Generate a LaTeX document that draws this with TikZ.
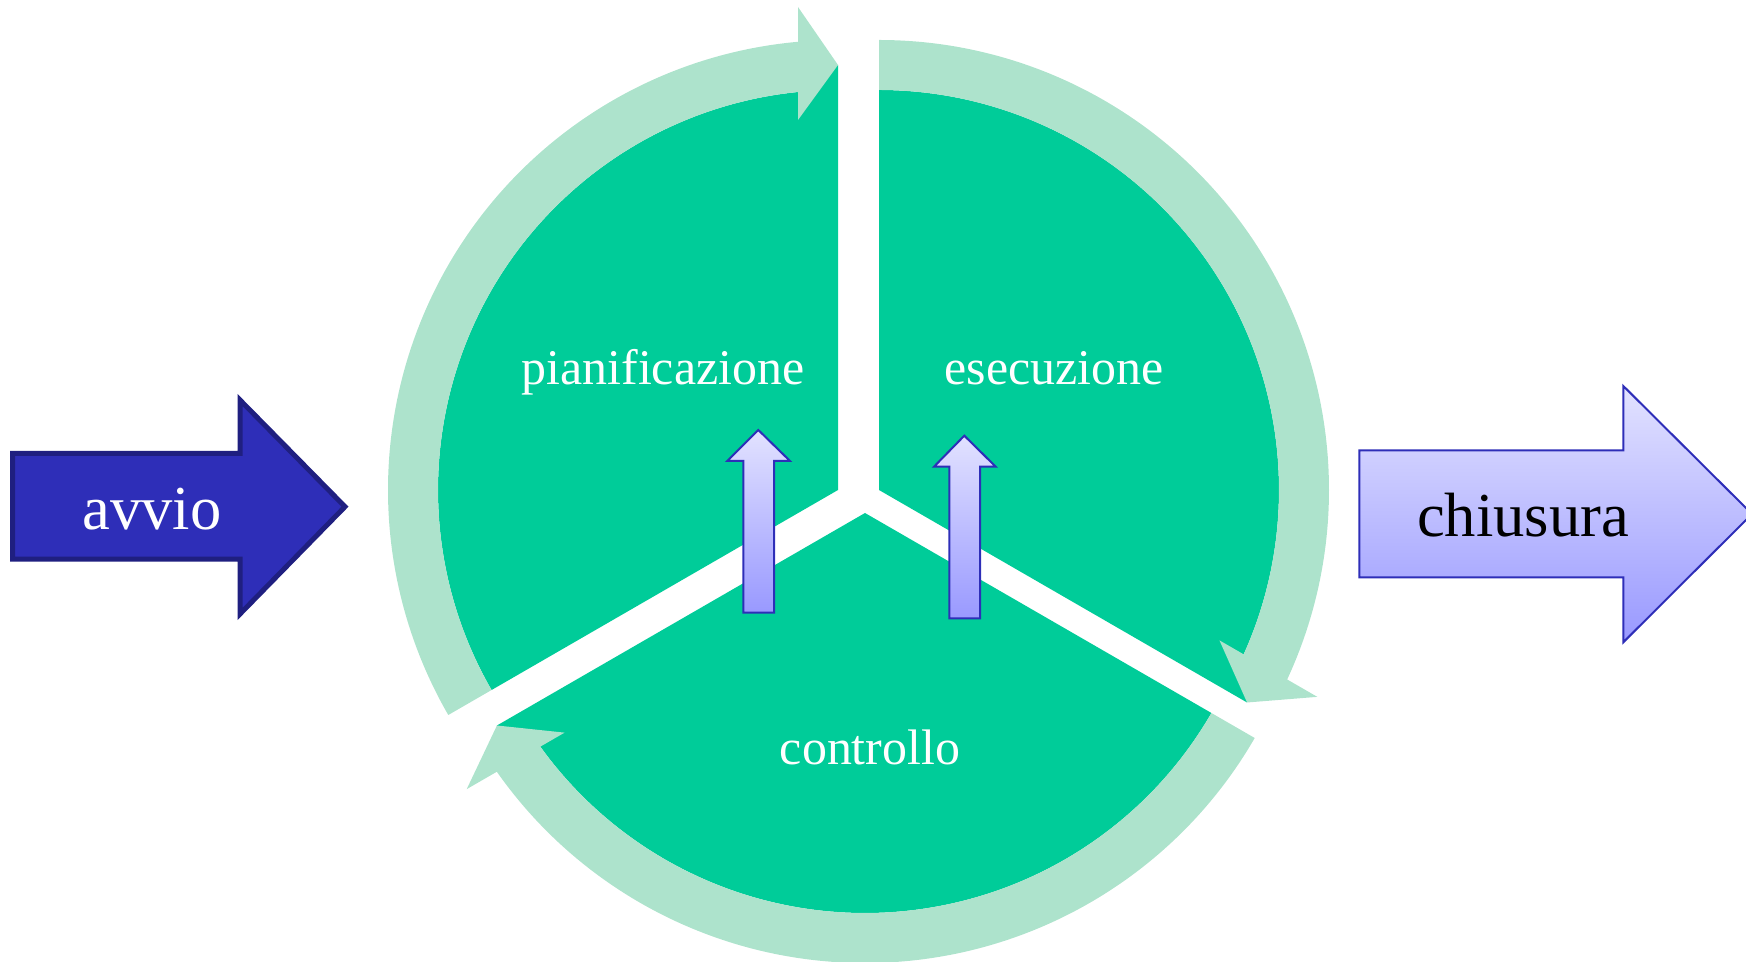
\documentclass[tikz,border=0pt]{standalone}
\usepackage{fontspec}
\setmainfont{Liberation Serif}
\usetikzlibrary{calc}
\definecolor{settore}{RGB}{0,204,153}
\definecolor{anello}{RGB}{173,227,204}
\definecolor{bluscuro}{RGB}{46,46,184}
\definecolor{bordoblu}{RGB}{31,31,128}
\definecolor{lilla}{RGB}{226,226,255}
\definecolor{lillascuro}{RGB}{153,153,255}
\definecolor{bordolilla}{RGB}{46,46,184}

% freccia circolare: centro, angolo di partenza, angolo della punta
\newcommand{\frecciaciclo}[3]{%
  \fill[anello] ($(#1)+(#2:4.5)$) arc[start angle=#2, end angle={#3+5.1}, radius=4.5]
    -- ($(#1)+(#3:4.83)+({#3+90}:0.4)$) -- ($(#1)+(#3:4.25)$)
    -- ($(#1)+(#3:3.7)+({#3+90}:0.4)$) -- ($(#1)+({#3+5.74}:4)$)
    arc[start angle={#3+5.74}, end angle=#2, radius=4] -- cycle;}

\begin{document}
\begin{tikzpicture}[
    etichetta/.style={text=white, font=\fontsize{14.2}{17}\selectfont, inner sep=0pt},
    freccina/.style={top color=lilla, bottom color=lillascuro, draw=bordolilla, line width=0.2mm}]
    \useasboundingbox (0,0) rectangle (17.46,9.61);
    % centri dei tre settori
    \coordinate (pc) at (8.38,4.71);
    \coordinate (ec) at (8.79,4.71);
    \coordinate (cc) at (8.65,4.48);
    \fill[settore] (pc) -- ($(pc)+(90:4.25)$) -- ($(pc)+(95.74:4)$) arc[start angle=95.74, end angle=210, radius=4] -- cycle;
    \fill[settore] (ec) -- ++(90:4) arc[start angle=90, end angle=-24.26, radius=4] -- ($(ec)+(-30:4.25)$) -- cycle;
    \fill[settore] (cc) -- ++(330:4) arc[start angle=330, end angle=215.74, radius=4] -- ($(cc)+(210:4.25)$) -- cycle;
    \frecciaciclo{pc}{210}{90}
    \frecciaciclo{ec}{90}{-30}
    \frecciaciclo{cc}{330}{210}
    \node[etichetta, anchor=base] (pian) at (6.63,5.76) {pianificazione};
    \node[etichetta, anchor=base] (esec) at (10.54,5.76) {esecuzione};
    \node[etichetta, anchor=base] (contr) at (8.70,1.96) {controllo};
    % frecce verso l'alto
    \shadedraw[freccina] (7.433,3.483) -- (7.433,5.00) -- (7.273,5.00) -- (7.583,5.31) -- (7.90,5.00) -- (7.74,5.00) -- (7.74,3.483) -- cycle;
    \shadedraw[freccina] (9.493,3.427) -- (9.493,4.943) -- (9.34,4.943) -- (9.643,5.253) -- (9.957,4.943) -- (9.80,4.943) -- (9.80,3.427) -- cycle;
    % avvio e chiusura
    \filldraw[fill=bluscuro, draw=bordoblu, line width=0.5mm] (0.125,5.075) -- (2.40,5.075) -- (2.40,5.61) -- (3.45,4.543) -- (2.40,3.47) -- (2.40,4.018) -- (0.125,4.018) -- cycle;
    \node[anchor=base, text=white, font=\fontsize{17.8}{21}\selectfont, inner sep=0pt] (avvio) at (1.52,4.31) {avvio};
    \shadedraw[freccina] (13.593,5.107) -- (16.233,5.107) -- (16.233,5.75) -- (17.52,4.47) -- (16.233,3.187) -- (16.233,3.837) -- (13.593,3.837) -- cycle;
    \node[anchor=base, font=\fontsize{17.8}{21}\selectfont, inner sep=0pt] (chius) at (15.23,4.243) {chiusura};
\end{tikzpicture}
\end{document}
